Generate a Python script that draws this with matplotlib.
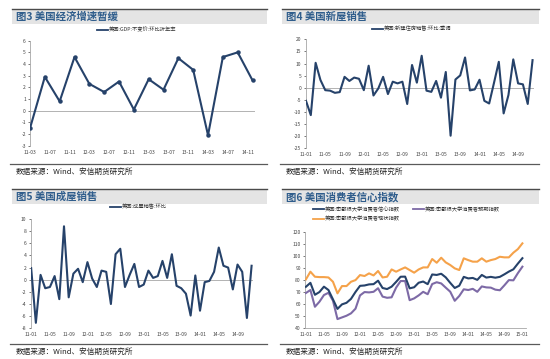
"""
美国宏观数据四联图 —— GDP / 新屋销售 / 成屋销售 / 消费者信心
"""
import matplotlib
matplotlib.use('Agg')
import matplotlib.pyplot as plt
from matplotlib.patches import Rectangle
from matplotlib.lines import Line2D

plt.rcParams['font.family'] = ['Noto Sans CJK SC', 'DejaVu Sans']
plt.rcParams['axes.unicode_minus'] = False

W, H = 550, 359

# ---------------- 数据 ----------------
# 图3: GDP 季度环比折年率 (11-03 起, 按月索引每3个月一点)
gdp_months = [0, 3, 6, 9, 12, 15, 18, 21, 24, 27, 30, 33, 36, 39, 42, 45]
gdp_vals = [-1.5, 2.9, 0.8, 4.6, 2.3, 1.6, 2.5, 0.1, 2.7, 1.8, 4.5, 3.5, -2.1, 4.6, 5.0, 2.6]
gdp_ticks = ['11-03', '11-07', '11-11', '12-03', '12-07', '12-11',
             '13-03', '13-07', '13-11', '14-03', '14-07', '14-11']

# 图4: 新建住房销售环比 (11-01 ~ 14-12)
new_home = [-5.4, -11.3, 10.3, 3.2, -1.0, -1.2, -2.1, -1.8, 4.5, 2.8, 4.2, 3.7,
            -1.0, 9.1, -3.2, -0.3, 4.5, -2.6, 2.5, 1.8, 2.5, -6.7, 9.4, 2.1,
            13.2, -1.2, -1.7, 2.8, -4.1, 6.5, -19.8, 3.4, 5.1, 12.5, -1.1, -0.7,
            3.3, -5.4, -6.5, 2.0, 10.7, -10.6, -3.0, 11.7, 1.8, 1.4, -6.7, 11.4]
month_ticks = ['11-01', '11-05', '11-09', '12-01', '12-05', '12-09',
               '13-01', '13-05', '13-09', '14-01', '14-05', '14-09']

# 图5: 成屋销售环比 (11-01 ~ 14-12)
exist_home = [1.9, -7.1, 0.8, -1.4, -1.2, 0.6, -3.2, 8.8, -2.9, 1.0, 1.8, -0.4,
              2.9, 0.2, -1.2, 1.5, 1.3, -4.0, 4.2, 5.1, -1.2, 0.8, 2.6, -1.2,
              -0.8, 1.5, 0.3, 0.6, 3.1, 0.3, 4.2, -1.0, -1.4, -2.3, -5.9, 0.7,
              -5.1, -0.4, -0.2, 1.3, 5.3, 2.3, 2.0, -1.6, 2.5, 1.3, -6.3, 2.3]

# 图6: 密歇根大学消费者指数 (11-01 ~ 15-01)
sentiment = [74.2, 77.5, 67.5, 69.8, 74.3, 71.5, 63.7, 55.7, 59.5, 60.8, 64.1, 69.9,
             75.0, 75.3, 76.2, 76.4, 79.3, 73.2, 72.3, 74.3, 78.3, 82.6, 82.7, 72.9,
             73.8, 77.6, 78.6, 76.4, 84.5, 84.1, 85.1, 82.1, 77.5, 73.2, 75.1, 82.5,
             81.2, 81.6, 80.0, 84.1, 81.9, 82.5, 81.8, 82.5, 84.6, 86.9, 88.8, 93.6,
             98.1]
expect = [69.0, 71.5, 57.5, 61.7, 67.3, 69.2, 62.6, 47.2, 48.6, 50.0, 52.0, 55.9,
          67.0, 69.8, 69.5, 70.0, 73.0, 66.0, 65.0, 65.4, 73.5, 79.0, 79.0, 63.0,
          64.5, 67.0, 70.0, 68.0, 76.5, 78.0, 77.0, 73.5, 70.1, 62.5, 66.5, 72.1,
          71.5, 72.5, 70.0, 74.5, 73.7, 73.5, 71.8, 71.3, 75.4, 79.8, 79.6, 85.6,
          91.0]
current = [80.4, 86.8, 82.6, 82.3, 82.3, 82.0, 78.4, 68.7, 74.8, 74.8, 78.4, 79.8,
           84.0, 83.2, 85.4, 83.7, 87.4, 82.0, 82.6, 88.7, 86.8, 88.7, 90.4, 88.2,
           86.0, 88.7, 90.4, 90.4, 97.4, 94.3, 98.5, 94.6, 92.4, 89.6, 88.2, 98.0,
           96.5, 95.2, 95.2, 98.0, 95.2, 96.5, 97.4, 99.3, 98.8, 98.8, 102.7, 105.7,
           110.5]
conf_ticks = month_ticks + ['15-01']

NAVY = '#26426a'
PURPLE = '#7d6aa6'
ORANGE = '#f5a24a'
GRAY = '#a6a6a6'
TITLE_C = '#2f5d8c'
LW = 1.5


def box(x0, y0, x1, y1):
    return [x0 / W, 1 - y1 / H, (x1 - x0) / W, (y1 - y0) / H]


fig = plt.figure(figsize=(W / 100, H / 100), dpi=100)
fig.patch.set_facecolor('white')


def frame(x0, x1, ytop, ybot, title):
    # 标题栏
    fig.add_artist(Rectangle((x0 / W, 1 - (ytop + 15) / H), (x1 - x0) / W, 15 / H,
                             transform=fig.transFigure, facecolor='#e4e4e4',
                             edgecolor='none', zorder=0))
    fig.add_artist(Line2D([x0 / W, x1 / W], [1 - ytop / H] * 2, color='#4a4a4a',
                          lw=1.0, transform=fig.transFigure))
    fig.text((x0 + 4) / W, 1 - (ytop + 8) / H, title, fontsize=7.5, fontweight='bold',
             color=TITLE_C, va='center', ha='left')
    # 底线 + 数据来源
    fig.add_artist(Line2D([(x0 - 2) / W, x1 / W], [1 - ybot / H] * 2, color='#5a5a5a',
                          lw=0.9, transform=fig.transFigure))
    fig.text((x0 + 4) / W, 1 - (ybot + 8) / H, '数据来源：Wind、安信期货研究所',
             fontsize=5.5, color='#222222', va='center', ha='left')


def legend_item(x, y, color, label):
    fig.add_artist(Line2D([x / W, (x + 11) / W], [1 - y / H] * 2, color=color, lw=1.3,
                          transform=fig.transFigure))
    fig.text((x + 12) / W, 1 - y / H, label, fontsize=3.8, color='#333333',
             va='center', ha='left')


def style(ax, zero=True):
    for s in ['top', 'right']:
        ax.spines[s].set_visible(False)
    ax.spines['left'].set_color(GRAY)
    ax.spines['left'].set_linewidth(0.6)
    if zero:
        ax.spines['bottom'].set_visible(False)
        ax.axhline(0, color=GRAY, lw=0.6, zorder=1)
    else:
        ax.spines['bottom'].set_color(GRAY)
        ax.spines['bottom'].set_linewidth(0.6)
    ax.tick_params(axis='both', labelsize=3.6, colors='#444444', length=1.5,
                   width=0.5, pad=1.5)
    ax.tick_params(axis='x', length=0, pad=3)


# ---------------- 图3 ----------------
frame(12, 267, 9, 164, '图3 美国经济增速暂缓')
legend_item(97, 29.5, NAVY, '美国:GDP:不变价:环比折年率')
ax1 = fig.add_axes(box(30, 40.7, 255, 145.7))
ax1.plot(gdp_months, gdp_vals, color=NAVY, lw=LW, marker='o', markersize=2.2,
         zorder=3)
ax1.set_ylim(-3, 6)
ax1.set_yticks(range(-3, 7))
ax1.set_xlim(0, 45.5)
ax1.set_xticks(range(0, 45, 4))
ax1.set_xticklabels(gdp_ticks)
style(ax1)

# ---------------- 图4 ----------------
frame(282, 539, 9, 164, '图4 美国新屋销售')
legend_item(372, 28.7, NAVY, '美国:新建住房销售:环比:季调')
ax2 = fig.add_axes(box(305.5, 39.3, 534, 148.3))
ax2.plot(range(len(new_home)), new_home, color=NAVY, lw=LW, zorder=3)
ax2.set_ylim(-25, 20)
ax2.set_yticks(range(-25, 21, 5))
ax2.set_xlim(-0.1, 47.3)
ax2.set_xticks(range(0, 48, 4))
ax2.set_xticklabels(month_ticks)
style(ax2)

# ---------------- 图5 ----------------
frame(12, 267, 189, 344, '图5 美国成屋销售')
legend_item(110, 206.7, NAVY, '美国:成屋销售:环比')
ax3 = fig.add_axes(box(30.7, 219, 253, 328.3))
ax3.plot(range(len(exist_home)), exist_home, color=NAVY, lw=LW, zorder=3)
ax3.set_ylim(-8, 10)
ax3.set_yticks(range(-8, 11, 2))
ax3.set_xlim(-0.1, 47.3)
ax3.set_xticks(range(0, 48, 4))
ax3.set_xticklabels(month_ticks)
style(ax3)

# ---------------- 图6 ----------------
frame(282, 539, 189, 344, '图6 美国消费者信心指数')
legend_item(313, 209.3, NAVY, '美国:密歇根大学消费者信心指数')
legend_item(413, 209.3, PURPLE, '美国:密歇根大学消费者预期指数')
legend_item(313, 219, ORANGE, '美国:密歇根大学消费者现状指数')
ax4 = fig.add_axes(box(305, 232, 526, 327.7))
x4 = range(len(sentiment))
ax4.plot(x4, current, color=ORANGE, lw=LW, zorder=3)
ax4.plot(x4, expect, color=PURPLE, lw=LW, zorder=3)
ax4.plot(x4, sentiment, color=NAVY, lw=LW, zorder=4)
ax4.set_ylim(40, 120)
ax4.set_yticks(range(40, 121, 10))
ax4.set_xlim(-0.2, 48.8)
ax4.set_xticks(range(0, 49, 4))
ax4.set_xticklabels(conf_ticks)
style(ax4, zero=False)

fig.savefig('out.png', dpi=100, facecolor='white')
